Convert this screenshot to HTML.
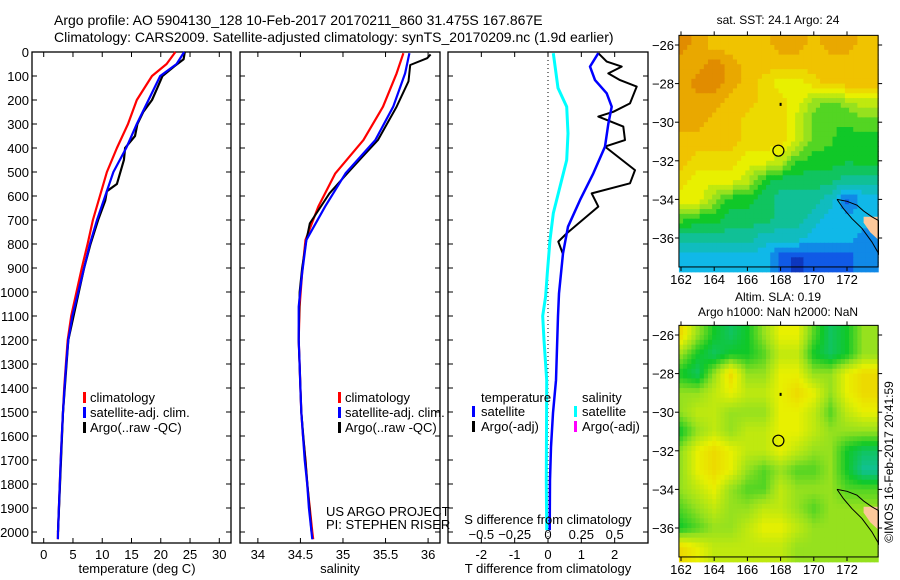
<!DOCTYPE html>
<html><head><meta charset="utf-8">
<style>
html,body{margin:0;padding:0;background:#fff;}
svg{display:block;font-family:"Liberation Sans",sans-serif;}
text{font-size:13px;fill:#000;}
</style></head>
<body>
<svg id="fig" width="900" height="580" viewBox="0 0 900 580" xmlns="http://www.w3.org/2000/svg">
<text x="54" y="25" style="font-size:14px">Argo profile: AO 5904130_128 10-Feb-2017 20170211_860 31.475S 167.867E</text>
<text x="54" y="42" style="font-size:14px">Climatology: CARS2009. Satellite-adjusted climatology: synTS_20170209.nc (1.9d earlier)</text>
<g id="g1"></g>
<g id="g2"></g>
<g id="g3"></g>
<g id="m1"></g>
<g id="m2"></g>
<text x="137" y="573" text-anchor="middle">temperature (deg C)</text>
<text x="340" y="573" text-anchor="middle">salinity</text>
<text x="548" y="573" text-anchor="middle">T difference from climatology</text>
<text x="548" y="524" text-anchor="middle">S difference from climatology</text>
<text x="326" y="516">US ARGO PROJECT</text>
<text x="326" y="529">PI: STEPHEN RISER</text>
<text x="778" y="24" text-anchor="middle" style="font-size:12px">sat. SST: 24.1 Argo: 24</text>
<text x="778" y="301" text-anchor="middle" style="font-size:12px">Altim. SLA: 0.19</text>
<text x="778" y="316" text-anchor="middle" style="font-size:12px">Argo h1000: NaN h2000: NaN</text>
<text transform="translate(893,462) rotate(-90)" text-anchor="middle" style="font-size:12px">©IMOS 16-Feb-2017 20:41:59</text>
</svg>
<script>
// ---------- data ----------
const tClimDepth=[0,50,100,200,300,400,500,600,700,800,900,1000,1100,1200,1300,1400,1500,1600,1700,1800,1900,2000,2030];
const tClim=[22.5,21.0,18.5,15.9,14.4,12.5,10.8,9.6,8.4,7.5,6.5,5.6,4.7,4.1,3.8,3.5,3.3,3.1,2.9,2.75,2.6,2.45,2.42];
const tSat=[24.0,22.7,19.9,17.9,15.9,14.1,11.9,10.5,9.1,7.9,6.9,5.9,4.9,4.2,3.85,3.55,3.3,3.1,2.9,2.75,2.6,2.45,2.42];
const tArgoDepth=[0,30,60,100,150,200,250,300,350,400,450,500,550,580,620,700,800,900,1000,1200,1500,2000];
const tArgo=[24.1,23.9,22.3,20.3,19.4,18.5,17.0,16.0,15.6,13.9,13.7,13.1,12.5,10.8,10.5,9.3,8.0,6.9,6.0,4.2,3.3,2.45];
const sDepth=[5,89,228,367,506,644,783,922,1061,1200,1300,1400,1500,1600,1700,1800,1900,2000,2030];
const sClim=[35.71,35.63,35.47,35.24,34.91,34.71,34.56,34.52,34.49,34.48,34.49,34.50,34.51,34.53,34.56,34.58,34.61,34.64,34.65];
const sSat=[35.78,35.73,35.59,35.38,35.03,34.79,34.57,34.52,34.48,34.48,34.49,34.50,34.51,34.53,34.55,34.58,34.60,34.63,34.64];
const sArgoDepth=[10,26,54,122,228,367,440,506,589,714,783,900,1000,1200,1500,2000];
const sArgo=[36.03,35.99,35.79,35.77,35.63,35.41,35.22,35.05,34.84,34.61,34.57,34.52,34.49,34.48,34.51,34.63];
const dDepth=[5,61,117,172,228,300,394,506,617,728,839,1006,1100,1367,1504,1646,1783,1992];
const dTSat=[1.51,1.26,1.41,1.76,1.91,1.81,1.71,1.36,0.96,0.6,0.45,0.33,0.3,0.24,0.15,0.09,0.06,0.05];
const dSSatDepth=[5,150,228,339,450,561,672,783,922,1019,1100,1200,1367,1783,1992];
const dSSat=[0.04,0.075,0.14,0.15,0.14,0.09,0.04,0.015,-0.005,-0.018,-0.04,-0.03,-0.01,-0.0125,-0.01];
const dTArgoDepth=[5,40,61,89,117,144,214,249,269,311,367,394,492,547,589,644,756,790,839];
const dTArgo=[1.51,1.76,2.21,1.81,2.16,2.66,2.46,1.96,1.51,2.26,2.31,1.71,2.61,2.46,1.31,1.51,0.56,0.31,0.44];
const depthTicks=[0,100,200,300,400,500,600,700,800,900,1000,1100,1200,1300,1400,1500,1600,1700,1800,1900,2000];
const tTicks=[0,5,10,15,20,25,30];
const sTicks=[34,34.5,35,35.5,36];
const dTicks=[-2,-1,0,1,2];
const dSTicks=[-0.5,-0.25,0,0.25,0.5];
const lonTicks=[162,164,166,168,170,172];
const latTicks=[-26,-28,-30,-32,-34,-36];
const sstGrid=[
[8,7.5,7,7,7,7,7.5,7.5,7,7.5,7.5,7],
[7.5,7.5,8,7.5,7,7,7,7,7,7,7,7],
[7.5,8,8,7.5,7,6.5,6,6,6.5,7,7,7],
[7.5,7.5,7.5,7,7,6.5,6.5,6,5,4.5,5,5.5],
[7.5,7.5,7,7,6.5,6.5,6.5,5.5,4.5,4.3,4.3,4.5],
[7,7,7,7,6.5,6.5,6.5,5.5,4.5,4.3,4,4],
[7,6.5,6.5,6.5,6,6,5.5,4.3,4,4,3.8,4],
[6.5,6,6,6,5.5,4,3.5,3.5,3.5,3.5,3,3],
[6,6,5,4,4,3.5,3,3,3,2.5,1,2],
[4.5,4,4,3.5,3.5,3.5,3,3,2.5,2,2,2],
[3,3,3,3,3,2.5,2.5,2.5,2,2,2,1.5],
[2,2,2,2,2,2,1,0.5,1,1,1,1.5]];
const slaGrid=[
[6.5,5,4,3.5,4,5,6,6,4.5,3.5,4,5],
[5,4,3.5,4,4,4.5,5.5,5.5,4,3.5,4,5],
[4,3.5,5,6.5,5,5,6,6,5,5,6,6.5],
[5,5,5.5,6,5.5,5.5,6,6.5,6,5,6,6.5],
[5,5.5,5.5,5,5,5,6,6,5.5,4.5,5.5,6],
[4,5,5.5,5,5.5,5.5,6,6,5.5,5,5,5],
[5,6,6.5,6,5.5,5.5,6,5.5,5,5,4,3.5],
[5,6,6.5,6,5,4.5,5,4.5,4.5,5,4,3],
[5,5.5,6,5,4.5,4.5,5.5,5,5,5,4.5,4.5],
[4.5,5,5.5,5,5,5.5,5.5,5,4.5,5,5,5],
[4,4.5,5,5,5.5,6,6,5.5,5,5,5,5],
[6.5,6,5.5,5.5,5.5,5.5,5.5,5,5,5,5,5]];
const argoLon=167.867, argoLat=-31.475;

// ---------- helpers ----------
const NS='http://www.w3.org/2000/svg';
function mk(parent,tag,attrs){const e=document.createElementNS(NS,tag);for(const k in attrs)e.setAttribute(k,attrs[k]);parent.appendChild(e);return e;}
const Y0=52, Y1=543;
function yDepth(d){return 52+d*0.24;}
function lin(d0,d1,r0,r1){return v=>r0+(v-d0)/(d1-d0)*(r1-r0);}

function panel(g,x0,x1,xs,ticks,fmt,showY){
  const fr=mk(g,'rect',{x:x0,y:Y0,width:x1-x0,height:Y1-Y0,fill:'none',stroke:'#000','stroke-width':1.3});
  
  
  ticks.forEach(t=>{const x=xs(t);
    mk(g,'line',{x1:x,x2:x,y1:Y0,y2:Y0+5,stroke:'#000'});
    mk(g,'line',{x1:x,x2:x,y1:Y1,y2:Y1-5,stroke:'#000'});
    const tx=mk(g,'text',{x:x,y:559,'text-anchor':'middle'});tx.textContent=fmt(t);
    
    
  });
  depthTicks.forEach(d=>{const y=yDepth(d);
    mk(g,'line',{x1:x0,x2:x0+5,y1:y,y2:y,stroke:'#000'});
    mk(g,'line',{x1:x1,x2:x1-5,y1:y,y2:y,stroke:'#000'});
    if(showY){const tx=mk(g,'text',{x:29,y:y+5,'text-anchor':'end'});tx.textContent=d;
      
      }
  });
}
function line(g,xs,vals,depths,color,w,name){
  const pts=vals.map((v,i)=>xs(v).toFixed(1)+','+yDepth(depths[i]).toFixed(1)).join(' ');
  const p=mk(g,'polyline',{points:pts,fill:'none',stroke:color,'stroke-width':w,'stroke-linejoin':'round'});
  
  
}
function legend(g,x,y,items){
  items.forEach((it,i)=>{
    mk(g,'rect',{x:it.bx!==undefined?it.bx:x-7,y:y+i*15-10,width:3,height:11,fill:it.c});
    const t=mk(g,'text',{x:x,y:y+i*15});t.textContent=it.t;
    
    
  });
}

// ---------- temperature ----------
const g1=document.getElementById('g1');
const xT=lin(-2,32,32,231);
panel(g1,32,231,xT,tTicks,t=>t,true);
line(g1,xT,tClim,tClimDepth,'#f00',2.2,'climatology-temperature-line');
line(g1,xT,tArgo,tArgoDepth,'#000',2.2,'argo-temperature-line');
line(g1,xT,tSat,tClimDepth,'#00f',2.2,'satellite-temperature-line');
legend(g1,90,402,[{t:'climatology',c:'#f00'},{t:'satellite-adj. clim.',c:'#00f'},{t:'Argo(..raw -QC)',c:'#000'}]);

// ---------- salinity ----------
const g2=document.getElementById('g2');
const xS=lin(33.79,36.14,240,440);
panel(g2,240,440,xS,sTicks,t=>t,false);
line(g2,xS,sClim,sDepth,'#f00',2.2,'climatology-salinity-line');
line(g2,xS,sArgo,sArgoDepth,'#000',2,'argo-salinity-line');
line(g2,xS,sSat,sDepth,'#00f',2.2,'satellite-salinity-line');
legend(g2,345,402,[{t:'climatology',c:'#f00'},{t:'satellite-adj. clim.',c:'#00f'},{t:'Argo(..raw -QC)',c:'#000'}]);

// ---------- differences ----------
const g3=document.getElementById('g3');
const xD=lin(-3,3,448,648);
const xDS=v=>xD(v*4);
panel(g3,448,648,xD,dTicks,t=>t,false);
dSTicks.forEach(t=>{const tx=mk(g3,'text',{x:xDS(t),y:539,'text-anchor':'middle'});tx.textContent=(t<0?'\u2212':'')+Math.abs(t);
  
  });
mk(g3,'line',{x1:xD(0),x2:xD(0),y1:Y0,y2:Y1,stroke:'#000','stroke-dasharray':'1,3'});
line(g3,xDS,dSSat,dSSatDepth,'#0ff',3,'salinity-diff-satellite-line');
line(g3,xD,dTArgo,dTArgoDepth,'#000',2,'temperature-diff-argo-line');
line(g3,xD,dTSat,dDepth,'#00f',2.5,'temperature-diff-satellite-line');
{const t=mk(g3,'text',{x:481,y:402});t.textContent='temperature';


const t2=mk(g3,'text',{x:582,y:402});t2.textContent='salinity';

}
legend(g3,481,416,[{t:'satellite',c:'#00f',bx:472},{t:'Argo(-adj)',c:'#000',bx:472}]);
legend(g3,582,416,[{t:'satellite',c:'#0ff',bx:574},{t:'Argo(-adj)',c:'#f0f',bx:574}]);

// ---------- maps ----------
const pal=[[10,20,150],[16,90,230],[16,184,232],[16,192,150],[16,200,40],[150,225,30],[232,240,0],[240,195,0],[225,140,0]];
function col(v){v=Math.max(0,Math.min(8,v));const i=Math.min(7,Math.floor(v)),f=v-i;
  const a=pal[i],b=pal[i+1];return 'rgb('+a.map((c,k)=>Math.round(c+(b[k]-c)*f)).join(',')+')';}
function grid(G,r,c){r=Math.max(0,Math.min(11,r));c=Math.max(0,Math.min(11,c));
  const r0=Math.floor(r),c0=Math.floor(c),r1=Math.min(11,r0+1),c1=Math.min(11,c0+1),fr=r-r0,fc=c-c0;
  return (G[r0][c0]*(1-fc)+G[r0][c1]*fc)*(1-fr)+(G[r1][c0]*(1-fc)+G[r1][c1]*fc)*fr;}
function map(gid,top,G,quant){
  const g=document.getElementById(gid);
  const xL=lin(162,172,681,847), yL=lin(-26,-36,top+10,top+203);
  const L0=161.875,L1=173.875,A0=-25.5,A1=-37.5;
  const step=0.25;
  for(let lat=A0;lat>A1-1e-6;lat-=step){
    for(let lon=L0;lon<L1-1e-6;lon+=step){
      const r=(-26-(lat-step/2)), c=(lon+step/2)-162;
      let v=grid(G,r,c);
      if(quant) v=Math.round(v*2)/2;
      const x=xL(lon),y=yL(lat),w=xL(lon+step)-x+0.6,h=yL(lat-step)-y+0.6;
      mk(g,'rect',{x:x.toFixed(2),y:y.toFixed(2),width:w.toFixed(2),height:h.toFixed(2),fill:col(v)});
    }
  }
  const land=[[173.0,-34.9],[173.9,-34.9],[173.9,-36.1],[173.4,-35.7],[173.0,-35.2]];
  const lp=mk(g,'polygon',{points:land.map(p=>xL(p[0]).toFixed(1)+','+yL(p[1]).toFixed(1)).join(' '),fill:'#fcc89a',stroke:'none'});
  
  
  const coast=[[171.4,-34.0],[172.0,-34.1],[172.6,-34.3],[173.0,-34.6],[173.5,-34.9],[173.9,-35.1],[173.9,-36.8],[173.5,-36.2],[172.9,-35.5],[172.3,-35.0],[171.8,-34.5],[171.4,-34.0]];
  const cp=mk(g,'polyline',{points:coast.map(p=>xL(p[0]).toFixed(1)+','+yL(p[1]).toFixed(1)).join(' '),fill:'none',stroke:'#000','stroke-width':1});
  
  
  const fr=mk(g,'rect',{x:xL(L0),y:yL(A0),width:xL(L1)-xL(L0),height:yL(A1)-yL(A0),fill:'none',stroke:'#000','stroke-width':1});
  
  
  lonTicks.forEach(t=>{const x=xL(t);
    mk(g,'line',{x1:x,x2:x,y1:yL(A0),y2:yL(A0)-4,stroke:'#000'});
    mk(g,'line',{x1:x,x2:x,y1:yL(A1),y2:yL(A1)+4,stroke:'#000'});
    const tx=mk(g,'text',{x:x,y:yL(A1)+17,'text-anchor':'middle'});tx.textContent=t;
    
    });
  latTicks.forEach(t=>{const y=yL(t);
    mk(g,'line',{x1:xL(L0),x2:xL(L0)-4,y1:y,y2:y,stroke:'#000'});
    mk(g,'line',{x1:xL(L1),x2:xL(L1)+4,y1:y,y2:y,stroke:'#000'});
    const tx=mk(g,'text',{x:674,y:y+5,'text-anchor':'end'});tx.textContent='\u2212'+Math.abs(t);
    
    });
  const c=mk(g,'circle',{cx:xL(argoLon),cy:yL(argoLat),r:5.5,fill:'none',stroke:'#000','stroke-width':1.2});
  
  
  const d=mk(g,'rect',{x:xL(168)-1,y:yL(-29.05)-1,width:2,height:3,fill:'#000'});
  
  
}
map('m1',35,sstGrid,true);
map('m2',325,slaGrid,false);
</script>
</body></html>
